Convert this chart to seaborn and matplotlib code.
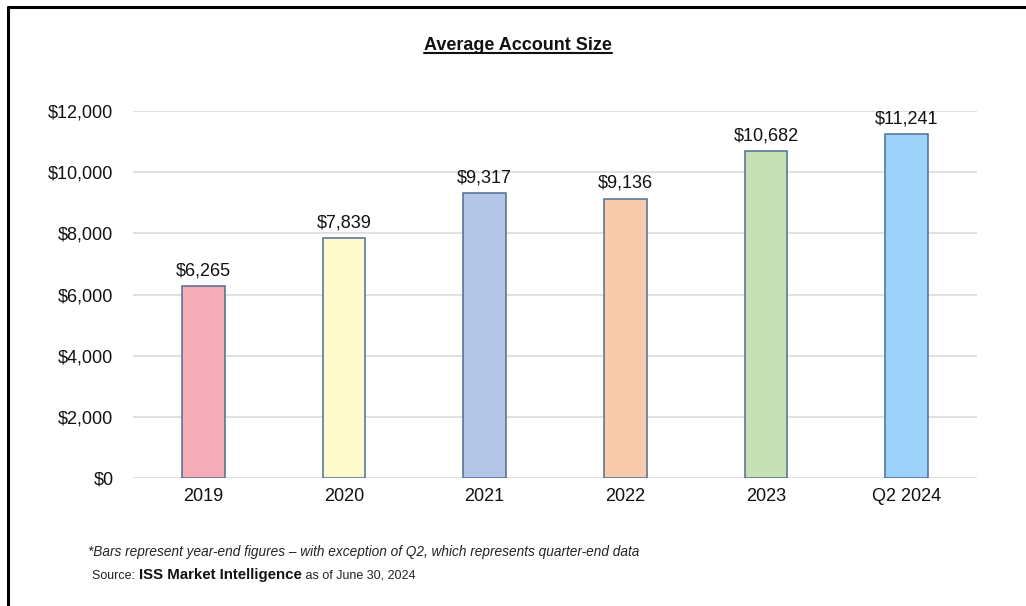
import matplotlib
matplotlib.use("Agg")
import matplotlib.pyplot as plt
import seaborn as sns
import pandas as pd
from matplotlib import font_manager
from matplotlib.lines import Line2D

categories = ["2019", "2020", "2021", "2022", "2023", "Q2 2024"]
values = [6265, 7839, 9317, 9136, 10682, 11241]
bar_colors = ["#F5ADBA", "#FEFACB", "#B4C6E7", "#F8CBAD", "#C6E0B4", "#9DD3FB"]
yticks = [0, 2000, 4000, 6000, 8000, 10000, 12000]
title = "Average Account Size"
footnote = "*Bars represent year-end figures \u2013 with exception of Q2, which represents quarter-end data"
src_a = "Source: "
src_b = "ISS Market Intelligence"
src_c = " as of June 30, 2024"

names = {f.name for f in font_manager.fontManager.ttflist}
base = "Liberation Sans" if "Liberation Sans" in names else "DejaVu Sans"
narrow = "Liberation Sans Narrow" if "Liberation Sans Narrow" in names else base

sns.set_theme(style="white")
plt.rcParams["font.family"] = [base, "DejaVu Sans"]

df = pd.DataFrame({"cat": categories, "val": values})

fig = plt.figure(figsize=(10.26, 6.06), dpi=100)
ax = fig.add_axes([133/1026, 1-478/606, (977-133)/1026, (478-111)/606])

sns.barplot(data=df, x="cat", y="val", hue="cat", palette=bar_colors,
            width=0.305, edgecolor="#4F6D93", linewidth=1.1, legend=False,
            ax=ax, saturation=1, zorder=3)

ax.set_ylim(0, 12000)
ax.set_xlim(-0.5, 5.5)
ax.set_yticks(yticks)
ax.set_yticklabels([f"${v:,}" for v in yticks])
ax.grid(axis="y", color="#DCDCDC", linewidth=1.2, zorder=0)
ax.grid(axis="x", visible=False)
for s in ax.spines.values():
    s.set_visible(False)
ax.tick_params(axis="both", length=0, labelsize=13, colors="#111111")
ax.tick_params(axis="y", pad=14)
ax.tick_params(axis="x", pad=7)
ax.set_xlabel("")
ax.set_ylabel("")

for p in ax.patches:
    h = p.get_height()
    if h != h or h == 0:
        continue
    ax.annotate(f"${h:,.0f}", (p.get_x() + p.get_width()/2, h),
                xytext=(0, 5), textcoords="offset points", ha="center",
                va="bottom", fontsize=13, color="#111111", annotation_clip=False)

t = fig.text(518/1026, 1-45/606, title, ha="center", va="center",
             fontsize=13, fontweight="bold", family=[narrow, base],
             color="#111111")
fig.canvas.draw()
bb = t.get_window_extent()
fig.add_artist(Line2D([bb.x0/1026, bb.x1/1026], [(bb.y0 + 1)/606]*2,
                      color="#111111", linewidth=1.5))

fig.text(88/1026, 1-552/606, footnote, ha="left", va="center",
         fontsize=9.8, style="italic", family=[narrow, base], color="#222222")

r = fig.canvas.get_renderer()
ta = fig.text(92/1026, 1-576/606, src_a, ha="left", va="center",
              fontsize=9, family=[narrow, base], color="#222222")
fig.canvas.draw()
x1 = ta.get_window_extent(r).x1
tb = fig.text((x1 + 1)/1026, 1-575/606, src_b, ha="left", va="center",
              fontsize=10.8, fontweight="bold", family=[narrow, base], color="#111111")
fig.canvas.draw()
x2 = tb.get_window_extent(r).x1
fig.text(x2/1026, 1-576/606, src_c, ha="left", va="center",
         fontsize=9, family=[narrow, base], color="#222222")

# frame border (left and top)
fig.add_artist(Line2D([8/1026, 8/1026], [0, 1-7/606], color="black", linewidth=2.2))
fig.add_artist(Line2D([8/1026, 1], [1-7/606, 1-7/606], color="black", linewidth=2.2))

fig.savefig("out.png", dpi=100)
